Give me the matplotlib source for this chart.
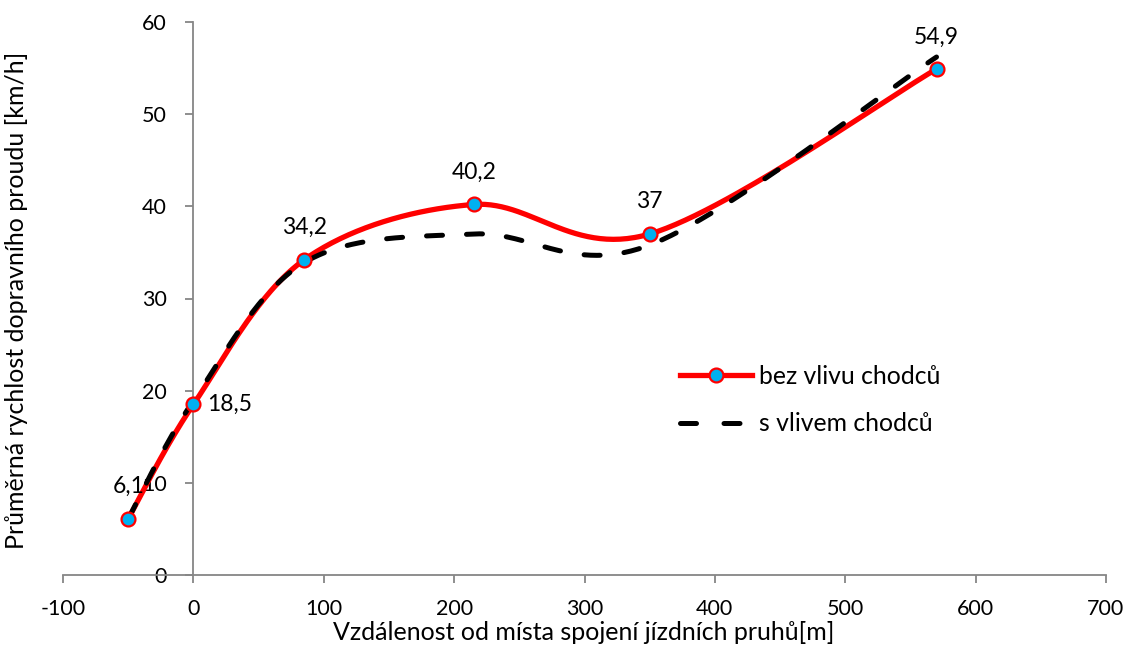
import numpy as np
import matplotlib
matplotlib.use("Agg")
import matplotlib.pyplot as plt
from matplotlib.lines import Line2D

plt.rcParams['font.family'] = ['Lato', 'DejaVu Sans']

x_vals = [-50, 0, 85, 215, 350, 570]
bez_vlivu = [6.1, 18.5, 34.2, 40.2, 37.0, 54.9]
s_vlivem = [6.1, 18.9, 33.9, 37.0, 35.8, 56.2]
labels = ["6,1", "18,5", "34,2", "40,2", "37", "54,9"]
series_names = ["bez vlivu chodců", "s vlivem chodců"]
x_ticks = [-100, 0, 100, 200, 300, 400, 500, 600, 700]
y_ticks = [0, 10, 20, 30, 40, 50, 60]

W, H = 1130, 646
fig = plt.figure(figsize=(W / 100, H / 100), dpi=100)
ax = fig.add_axes([63 / W, 1 - 575 / H, (1106 - 63) / W, (575 - 22) / H])
ax.set_xlim(-100, 700)
ax.set_ylim(0, 60)

# pixel scale for Excel-like smoothing
sx = (1106 - 63) / 800.0
sy = (575 - 22) / 60.0


def smooth(xs, ys, n=60):
    P = np.column_stack([np.array(xs) * sx, np.array(ys) * sy])
    pts = []
    m = len(P)
    for i in range(m - 1):
        p0 = P[i - 1] if i > 0 else P[i]
        p1 = P[i]
        p2 = P[i + 1]
        p3 = P[i + 2] if i + 2 < m else P[i + 1]
        c1 = p1 + (p2 - p0) / 6.0
        c2 = p2 - (p3 - p1) / 6.0
        t = np.linspace(0, 1, n)[:, None]
        seg = ((1 - t) ** 3) * p1 + 3 * ((1 - t) ** 2) * t * c1 + 3 * (1 - t) * t ** 2 * c2 + t ** 3 * p2
        pts.append(seg if i == 0 else seg[1:])
    pts = np.vstack(pts)
    return pts[:, 0] / sx, pts[:, 1] / sy


red = '#FF0000'
blue = '#00B0F0'

rx, ry = smooth(x_vals, bez_vlivu)
ax.plot(rx, ry, color=red, lw=3.8, solid_capstyle='round', zorder=3, clip_on=False)
ax.plot(x_vals, bez_vlivu, linestyle='none', marker='o', markersize=10,
        markerfacecolor=blue, markeredgecolor=red, markeredgewidth=1.6, zorder=5, clip_on=False)

bx, by = smooth(x_vals, s_vlivem)
ax.plot(bx, by, color='black', lw=3.6, dashes=(3.2, 4.8), dash_capstyle='round',
        zorder=4, clip_on=False)

# data labels
for xv, yv, lab in zip(x_vals, bez_vlivu, labels):
    if lab == "18,5":
        ax.annotate(lab, (xv, yv), xytext=(14, 0), textcoords='offset pixels',
                    ha='left', va='center', fontsize=16.5)
    else:
        ax.annotate(lab, (xv, yv), xytext=(0, 32), textcoords='offset pixels',
                    ha='center', va='center', fontsize=16.5)

gray = '#868686'
for s in ['top', 'right']:
    ax.spines[s].set_visible(False)
ax.spines['left'].set_position(('data', 0))
ax.spines['left'].set_color(gray)
ax.spines['bottom'].set_color(gray)
ax.spines['left'].set_linewidth(1.3)
ax.spines['bottom'].set_linewidth(1.3)
ax.set_xticks(x_ticks)
ax.set_yticks(y_ticks)
ax.set_xticklabels([str(v) for v in x_ticks])
ax.set_yticklabels([str(v) for v in y_ticks])
ax.tick_params(axis='both', colors=gray, labelcolor='black', labelsize=15.5,
               length=6, width=1.3, direction='out')
ax.tick_params(axis='x', pad=11)
ax.tick_params(axis='y', pad=13)

fig.text(17 / W, 1 - 300 / H, "Průměrná rychlost dopravního proudu [km/h]",
         rotation=90, ha='center', va='center', fontsize=18)
fig.text(584 / W, 1 - 633 / H, "Vzdálenost od místa spojení jízdních pruhů[m]",
         ha='center', va='center', fontsize=18)

h1 = Line2D([], [], color=red, lw=3.8, marker='o', markersize=10,
            markerfacecolor=blue, markeredgecolor=red, markeredgewidth=1.6)
h2 = Line2D([], [], color='black', lw=3.6, dashes=(3.2, 5.5), dash_capstyle='round')
leg = fig.legend([h1, h2], series_names, loc='center left',
                 bbox_to_anchor=(680 / W, 1 - 400 / H), frameon=False, fontsize=17.8,
                 handlelength=2.9, labelspacing=1.0, handletextpad=0.3, borderpad=0,
                 borderaxespad=0)

fig.savefig("out.png", dpi=100)
